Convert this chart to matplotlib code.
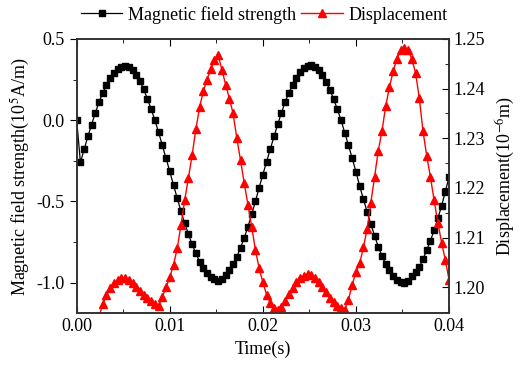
import numpy as np
import matplotlib.pyplot as plt
from matplotlib.ticker import MultipleLocator

plt.rcParams['font.family'] = 'Liberation Serif'
plt.rcParams['mathtext.fontset'] = 'stix'

# sampling: 0.4 ms steps from 0 to 0.04 s
time = np.linspace(0.0, 0.04, 101)

field = [0.0, -0.26, -0.18, -0.10, -0.027, 0.045, 0.112, 0.168, 0.215, 0.258,
         0.292, 0.315, 0.328, 0.332, 0.325, 0.308, 0.28, 0.24, 0.19, 0.13,
         0.068, 0.0, -0.075, -0.155, -0.235, -0.315, -0.40, -0.48, -0.56, -0.635,
         -0.70, -0.765, -0.82, -0.87, -0.91, -0.94, -0.963, -0.978, -0.99, -0.977,
         -0.952, -0.92, -0.885, -0.84, -0.785, -0.725, -0.655, -0.58, -0.50, -0.415,
         -0.335, -0.255, -0.178, -0.10, -0.025, 0.047, 0.113, 0.17, 0.218, 0.262,
         0.296, 0.32, 0.334, 0.338, 0.33, 0.31, 0.28, 0.237, 0.188, 0.13,
         0.068, 0.0, -0.078, -0.155, -0.235, -0.318, -0.405, -0.486, -0.564, -0.64,
         -0.71, -0.78, -0.837, -0.886, -0.923, -0.958, -0.985, -0.999, -1.003, -0.99,
         -0.962, -0.937, -0.906, -0.857, -0.80, -0.743, -0.677, -0.605, -0.527, -0.44,
         -0.35]

disp = [1.160, 1.168, 1.175, 1.181, 1.186, 1.190, 1.1940, 1.1966, 1.1984, 1.1998,
        1.2008, 1.2014, 1.2018, 1.2019, 1.2015, 1.2009, 1.2001, 1.1993, 1.1985, 1.1978,
        1.1972, 1.1966, 1.1962, 1.1980, 1.2000, 1.2020, 1.2045, 1.2078, 1.2125, 1.2175,
        1.2220, 1.2266, 1.2318, 1.2362, 1.2395, 1.2418, 1.2440, 1.2457, 1.2467, 1.2438,
        1.2408, 1.2380, 1.2350, 1.2300, 1.2256, 1.2209, 1.2166, 1.2122, 1.2075, 1.2038,
        1.2010, 1.1985, 1.1968, 1.1958, 1.1955, 1.1961, 1.1973, 1.1986, 1.1999, 1.2010,
        1.2018, 1.2023, 1.2026, 1.2024, 1.2018, 1.2010, 1.2000, 1.1990, 1.1979, 1.1970,
        1.1963, 1.1958, 1.1955, 1.1975, 1.2005, 1.2030, 1.2048, 1.2080, 1.2117, 1.2170,
        1.2222, 1.2275, 1.2315, 1.2365, 1.2403, 1.2435, 1.2460, 1.2477, 1.2481, 1.2477,
        1.2460, 1.2432, 1.2382, 1.2315, 1.2265, 1.2222, 1.2175, 1.2130, 1.2090, 1.2055,
        1.2015]

fig = plt.figure(figsize=(5.2, 3.71), dpi=100)
ax = fig.add_axes([0.1475, 0.155, 0.716, 0.740])
ax2 = ax.twinx()

l1, = ax.plot(time, field, '-', color='black', lw=0.9, marker='s', ms=4.6,
              label='Magnetic field strength')
l2, = ax2.plot(time, disp, '-', color='red', lw=1.0, marker='^', ms=5.6,
               label='Displacement')

ax.set_xlim(0, 0.04)
ax.set_ylim(-1.19, 0.5)
ax2.set_ylim(1.1947, 1.25)

ax.xaxis.set_major_locator(MultipleLocator(0.01))
ax.xaxis.set_minor_locator(MultipleLocator(0.005))
ax.yaxis.set_major_locator(MultipleLocator(0.5))
ax.yaxis.set_minor_locator(MultipleLocator(0.25))
ax2.yaxis.set_major_locator(MultipleLocator(0.01))
ax2.yaxis.set_minor_locator(MultipleLocator(0.005))
ax.xaxis.set_major_formatter(plt.FormatStrFormatter('%.2f'))
ax.yaxis.set_major_formatter(plt.FormatStrFormatter('%.1f'))
ax2.yaxis.set_major_formatter(plt.FormatStrFormatter('%.2f'))

ax.tick_params(axis='x', which='both', direction='in', top=True, labelsize=13)
ax.tick_params(axis='x', which='major', length=5)
ax.tick_params(axis='x', which='minor', length=3)
ax.tick_params(axis='y', which='both', direction='out', labelsize=13)
ax.tick_params(axis='y', which='major', length=5)
ax.tick_params(axis='y', which='minor', length=3)
ax2.tick_params(axis='y', which='both', direction='in', labelsize=13)
ax2.tick_params(axis='y', which='major', length=5)
ax2.tick_params(axis='y', which='minor', length=3)

for a in (ax, ax2):
    for s in a.spines.values():
        s.set_linewidth(1.2)
        s.set_color('#333333')

ax.set_xlabel('Time(s)', fontsize=13, labelpad=4)
ax.set_ylabel('Magnetic field strength(10$^{5}$A/m)', fontsize=13, labelpad=3)
ax2.set_ylabel('Displacement(10$^{-6}$m)', fontsize=13, labelpad=6)

fig.legend(handles=[l1, l2], loc='center', bbox_to_anchor=(0.508, 0.96),
           ncol=2, frameon=False, fontsize=13, handlelength=2.3,
           handletextpad=0.3, columnspacing=0.3, borderaxespad=0)

fig.savefig('out.png', dpi=100)
